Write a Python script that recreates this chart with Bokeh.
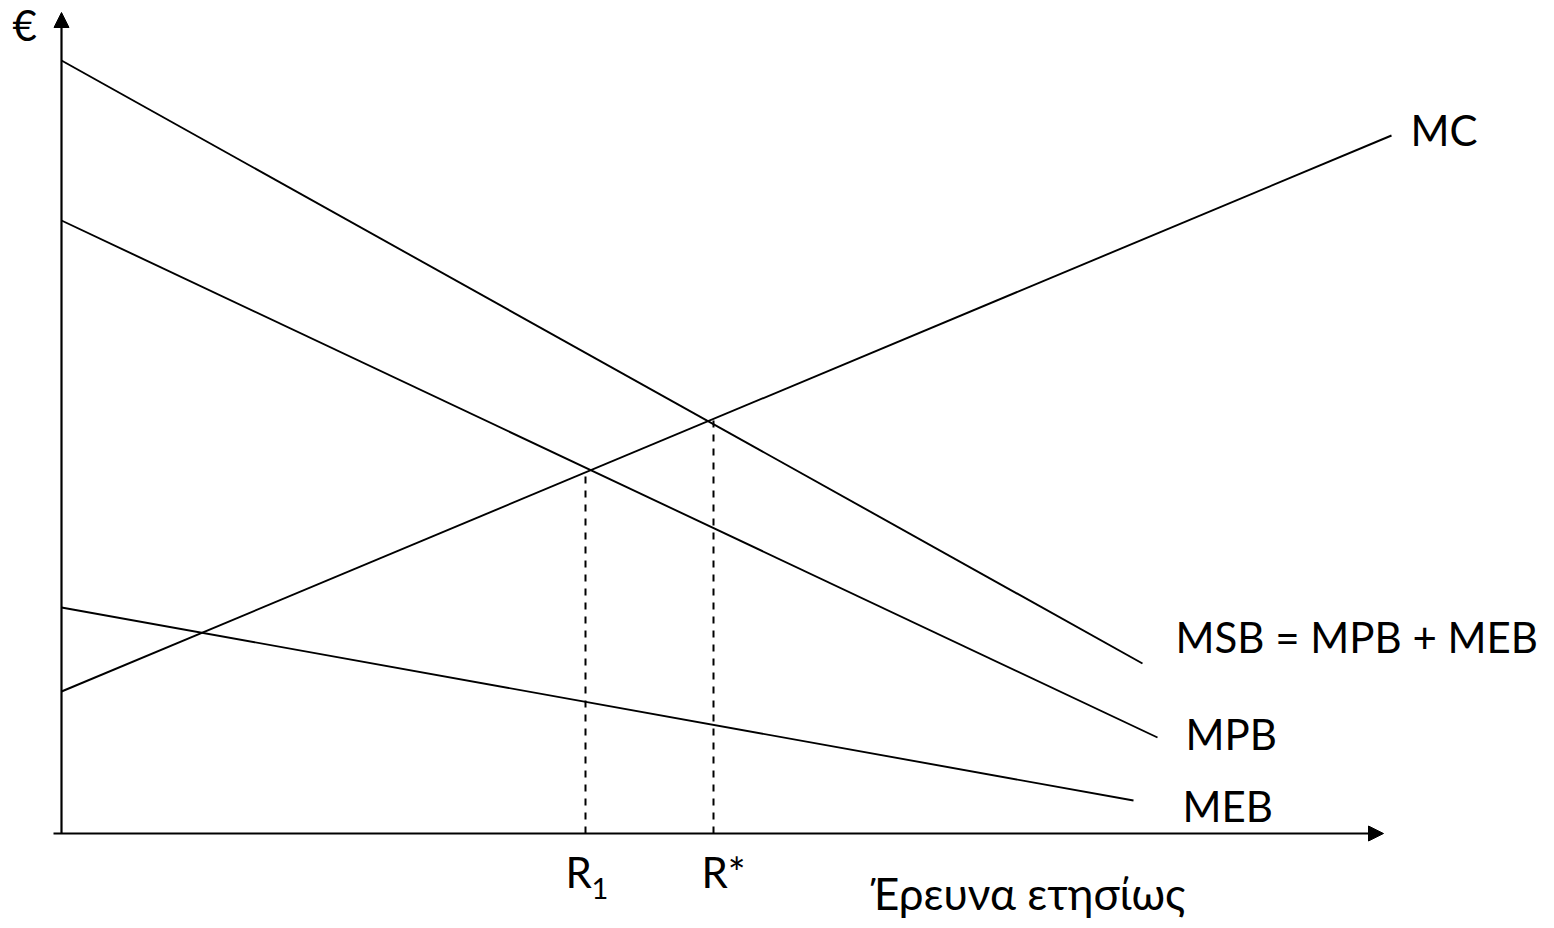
from bokeh.plotting import figure
from bokeh.models import Range1d, Arrow, NormalHead, ColumnDataSource
from bokeh.core.properties import value
from bokeh.embed import file_html
from bokeh.resources import INLINE

# ---- data (x: research units, y: euros) ----
curve_names = ["MSB = MPB + MEB", "MPB", "MC", "MEB"]
curve_x0 = [0.0, 0.0, 0.0, 0.0]
curve_y0 = [77.3, 61.3, 14.2, 22.6]
curve_x1 = [108.1, 109.6, 133.0, 107.2]
curve_y1 = [17.0, 9.6, 69.8, 3.3]

label_x = [111.4, 112.4, 134.9, 112.1]
label_y = [19.7, 10.0, 70.4, 2.8]

eq_x = [52.4, 65.2]
eq_top = [36.4, 41.3]
eq_label_x = [50.4, 64.0]
eq_label = ["R", "R*"]
eq_sub = ["1", ""]

x_axis_end = 132.2
y_axis_end = 82.1
x_title = "Έρευνα ετησίως"
y_title = "€"

FONT = "Lato"
FS = "42px"

p = figure(width=1554, height=926, output_backend="svg", toolbar_location=None,
           x_range=Range1d(-6.1, 149.3), y_range=Range1d(-9.3, 83.3),
           min_border=0)
p.axis.visible = False
p.grid.visible = False
p.outline_line_color = None
p.background_fill_color = "white"
p.border_fill_color = "white"

# axes with arrows
p.add_layout(Arrow(end=NormalHead(size=15, fill_color="black", line_color="black", line_width=1),
                   x_start=-0.8, y_start=0, x_end=x_axis_end, y_end=0,
                   line_width=2.2, line_color="black"))
p.add_layout(Arrow(end=NormalHead(size=15, fill_color="black", line_color="black", line_width=1),
                   x_start=0, y_start=0, x_end=0, y_end=y_axis_end,
                   line_width=2.2, line_color="black"))

# curves
src = ColumnDataSource(dict(x0=curve_x0, y0=curve_y0, x1=curve_x1, y1=curve_y1))
p.segment("x0", "y0", "x1", "y1", source=src, line_color="black", line_width=1.9)

# equilibrium dashed lines
p.segment(x0=eq_x, y0=[0, 0], x1=eq_x, y1=eq_top, line_color="black",
          line_width=2, line_dash="7 7")

# curve labels
p.text(x=label_x, y=label_y, text=curve_names, text_font=value(FONT),
       text_font_size=FS, text_baseline="alphabetic", text_align="left",
       text_color="black")

# R labels
p.text(x=eq_label_x, y=[-3.8, -3.8], text=eq_label, text_font=value(FONT),
       text_font_size=FS, text_baseline="alphabetic", text_align="left",
       text_color="black")
p.text(x=[53.0], y=[-5.5], text=[eq_sub[0]], text_font=value(FONT),
       text_font_size="29px", text_baseline="alphabetic", text_align="left",
       text_color="black")

# axis titles
p.text(x=[80.9], y=[-5.9], text=[x_title], text_font=value(FONT),
       text_font_size="44px", text_baseline="alphabetic", text_align="left",
       text_color="black")
p.text(x=[-4.9], y=[80.9], text=[y_title], text_font=value(FONT),
       text_font_size="42px", text_baseline="alphabetic", text_align="left",
       text_color="black")

open("out.html", "w").write(file_html(p, INLINE))
